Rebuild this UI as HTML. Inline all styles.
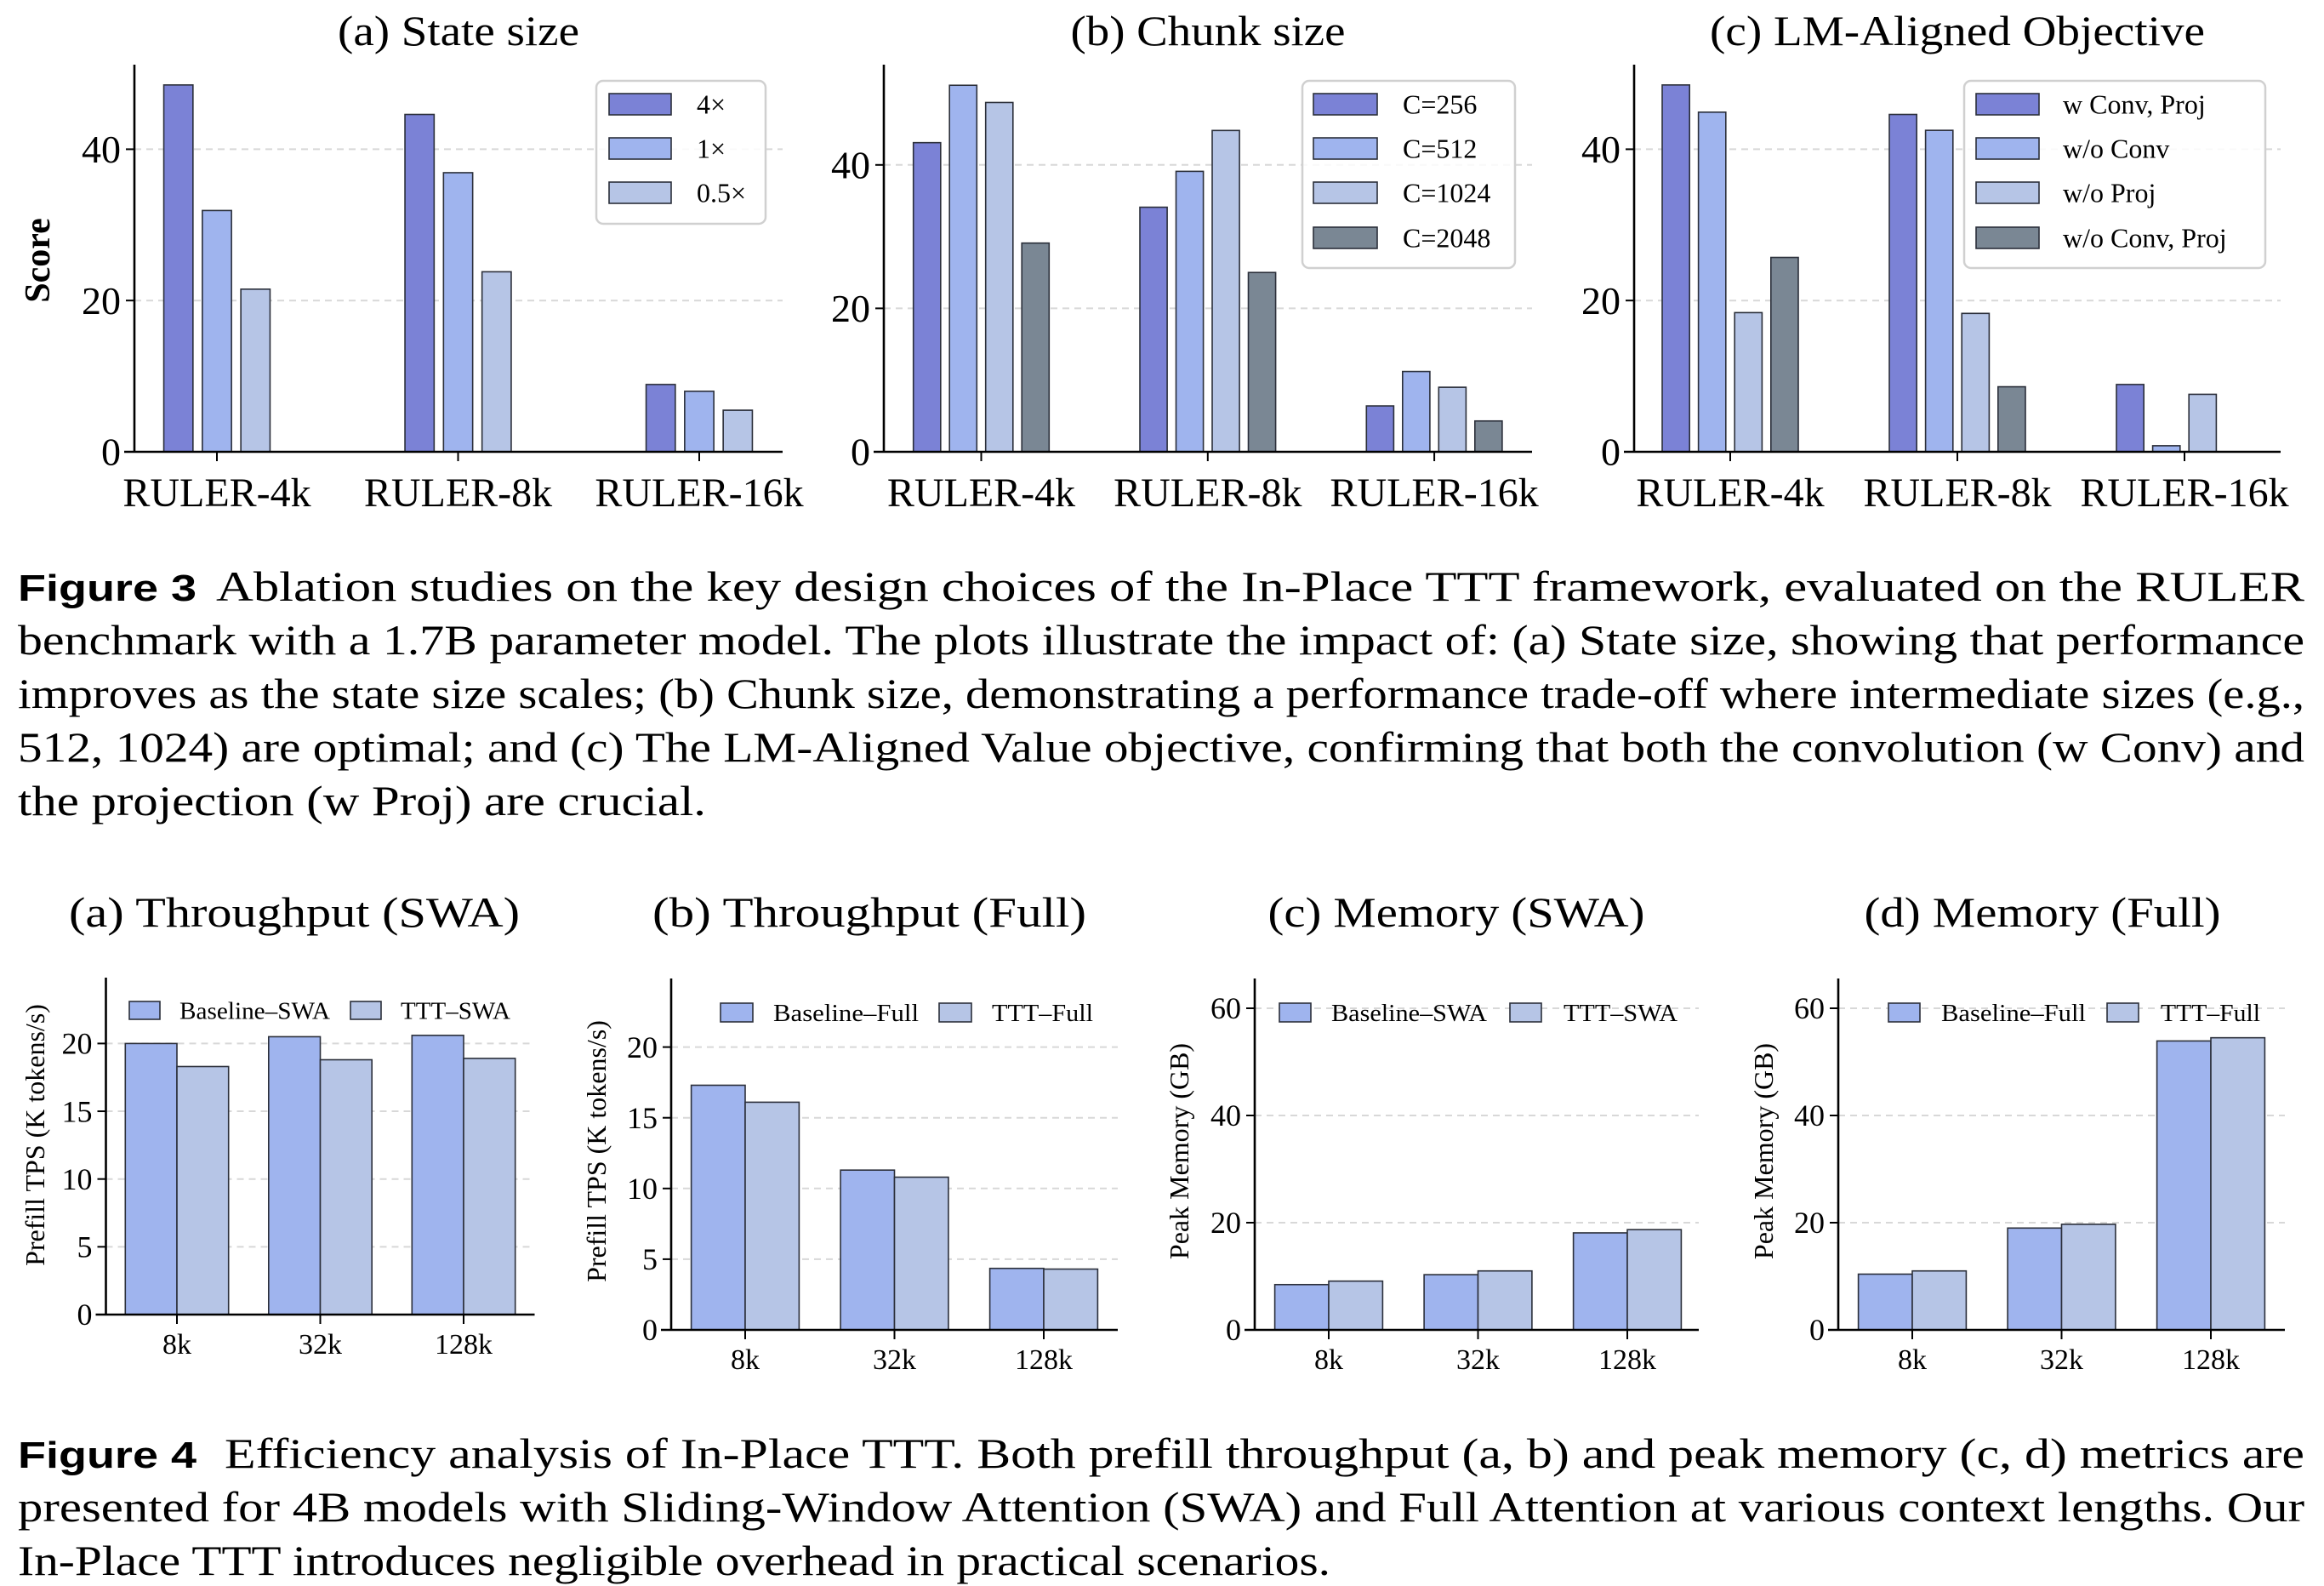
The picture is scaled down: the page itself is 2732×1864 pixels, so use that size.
<!DOCTYPE html>
<html><head><meta charset="utf-8"><style>
html,body{margin:0;padding:0;background:#fff;}
svg{display:block;}
.serif{font-family:"Liberation Serif",serif;fill:#000;}
.sans{font-family:"Liberation Sans",sans-serif;fill:#000;}
</style></head><body>
<svg id="root" xmlns="http://www.w3.org/2000/svg" width="2732" height="1864" viewBox="0 0 2732 1864">
<rect x="0" y="0" width="2732" height="1864" fill="#fff"/>
<text class="serif" x="539" y="53" font-size="50" text-anchor="middle" textLength="284" lengthAdjust="spacingAndGlyphs">(a) State size</text>
<text class="serif" x="1420" y="53" font-size="50" text-anchor="middle" textLength="323" lengthAdjust="spacingAndGlyphs">(b) Chunk size</text>
<text class="serif" x="2301" y="53" font-size="50" text-anchor="middle" textLength="582" lengthAdjust="spacingAndGlyphs">(c) LM-Aligned Objective</text>
<g>
<text class="sans" x="21" y="706" font-size="44" font-weight="bold" textLength="210" lengthAdjust="spacingAndGlyphs">Figure 3</text>
<text class="serif" x="254" y="706" font-size="50" textLength="2455" lengthAdjust="spacingAndGlyphs">Ablation studies on the key design choices of the In-Place TTT framework, evaluated on the RULER</text>
<text class="serif" x="21" y="769" font-size="50" textLength="2688" lengthAdjust="spacingAndGlyphs">benchmark with a 1.7B parameter model. The plots illustrate the impact of: (a) State size, showing that performance</text>
<text class="serif" x="21" y="832" font-size="50" textLength="2688" lengthAdjust="spacingAndGlyphs">improves as the state size scales; (b) Chunk size, demonstrating a performance trade-off where intermediate sizes (e.g.,</text>
<text class="serif" x="21" y="895" font-size="50" textLength="2688" lengthAdjust="spacingAndGlyphs">512, 1024) are optimal; and (c) The LM-Aligned Value objective, confirming that both the convolution (w Conv) and</text>
<text class="serif" x="21" y="958" font-size="50" textLength="809" lengthAdjust="spacingAndGlyphs">the projection (w Proj) are crucial.</text>
</g>
<text class="serif" x="346" y="1089" font-size="50" text-anchor="middle" textLength="530" lengthAdjust="spacingAndGlyphs">(a) Throughput (SWA)</text>
<text class="serif" x="1022" y="1089" font-size="50" text-anchor="middle" textLength="510" lengthAdjust="spacingAndGlyphs">(b) Throughput (Full)</text>
<text class="serif" x="1712" y="1089" font-size="50" text-anchor="middle" textLength="443" lengthAdjust="spacingAndGlyphs">(c) Memory (SWA)</text>
<text class="serif" x="2401" y="1089" font-size="50" text-anchor="middle" textLength="419" lengthAdjust="spacingAndGlyphs">(d) Memory (Full)</text>
<g>
<text class="sans" x="21" y="1725" font-size="44" font-weight="bold" textLength="210" lengthAdjust="spacingAndGlyphs">Figure 4</text>
<text class="serif" x="264" y="1725" font-size="50" textLength="2445" lengthAdjust="spacingAndGlyphs">Efficiency analysis of In-Place TTT. Both prefill throughput (a, b) and peak memory (c, d) metrics are</text>
<text class="serif" x="21" y="1788" font-size="50" textLength="2688" lengthAdjust="spacingAndGlyphs">presented for 4B models with Sliding-Window Attention (SWA) and Full Attention at various context lengths. Our</text>
<text class="serif" x="21" y="1851" font-size="50" textLength="1543" lengthAdjust="spacingAndGlyphs">In-Place TTT introduces negligible overhead in practical scenarios.</text>
</g>
</svg>
<script>
const rulerCats = ["RULER-4k", "RULER-8k", "RULER-16k"];
const stateSeries = ["4×", "1×", "0.5×"];
const state4x = [48.5, 44.6, 8.9];
const state1x = [31.9, 36.9, 8.0];
const state05x = [21.5, 23.8, 5.5];
const chunkSeries = ["C=256", "C=512", "C=1024", "C=2048"];
const chunk256 = [43.1, 34.1, 6.4];
const chunk512 = [51.1, 39.1, 11.2];
const chunk1024 = [48.7, 44.8, 9.0];
const chunk2048 = [29.1, 25.0, 4.3];
const lmSeries = ["w Conv, Proj", "w/o Conv", "w/o Proj", "w/o Conv, Proj"];
const lmConvProj = [48.5, 44.6, 8.9];
const lmNoConv = [44.9, 42.5, 0.8];
const lmNoProj = [18.4, 18.3, 7.6];
const lmNoBoth = [25.7, 8.6, 0];
const topTicks = [0, 20, 40];

const ctxCats = ["8k", "32k", "128k"];
const tpsSwaBase = [20.0, 20.5, 20.6];
const tpsSwaTTT = [18.3, 18.8, 18.9];
const tpsFullBase = [17.3, 11.3, 4.35];
const tpsFullTTT = [16.1, 10.8, 4.3];
const memSwaBase = [8.45, 10.3, 18.1];
const memSwaTTT = [9.1, 11.0, 18.7];
const memFullBase = [10.4, 19.0, 53.9];
const memFullTTT = [11.0, 19.7, 54.5];
const tpsTicks = [0, 5, 10, 15, 20];
const memTicks = [0, 20, 40, 60];
const swaLegend = ["Baseline–SWA", "TTT–SWA"];
const fullLegend = ["Baseline–Full", "TTT–Full"];

const NS = "http://www.w3.org/2000/svg";
const root = document.getElementById("root");
const C4 = "#7b82d6", C1 = "#9fb4ee", C05 = "#b6c5e6", CD = "#7a8794";

function mk(tag, parent, attrs) {
  const e = document.createElementNS(NS, tag);
  for (const k in attrs) e.setAttribute(k, attrs[k]);
  parent.appendChild(e);
  return e;
}

function drawChart(cfg) {
  const g = mk("g", root, {});
  
  
  const y = v => cfg.y0 - v * cfg.ppu;
  const xc = i => cfg.tick0 + i * cfg.step;
  cfg.ticks.forEach(t => {
    if (t === 0) return;
    const gl = mk("line", g, {x1: cfg.ax, x2: cfg.axR, y1: y(t), y2: y(t), stroke: "#d8d8d8", "stroke-width": 2, "stroke-dasharray": "8,6"});
    
    
  });
  const n = cfg.series.length;
  cfg.series.forEach((vals, j) => {
    vals.forEach((v, i) => {
      if (v <= 0) return;
      const cx = xc(i) + (j - (n - 1) / 2) * cfg.pitch;
      const b = mk("rect", g, {x: cx - cfg.bw / 2, y: y(v), width: cfg.bw, height: v * cfg.ppu, fill: cfg.colors[j], stroke: "#2b2f3a", "stroke-width": 1.6});
      
      
    });
  });
  const ls = mk("line", g, {x1: cfg.ax, x2: cfg.ax, y1: cfg.top, y2: cfg.y0, stroke: "#000", "stroke-width": 2.6});
  
  
  const bs = mk("line", g, {x1: cfg.ax - 12, x2: cfg.axR, y1: cfg.y0, y2: cfg.y0, stroke: "#000", "stroke-width": 2.6});
  
  
  cfg.ticks.forEach(t => {
    mk("line", g, {x1: cfg.ax - 10, x2: cfg.ax, y1: y(t), y2: y(t), stroke: "#000", "stroke-width": 2});
    const tl = mk("text", g, {x: cfg.ax - 16, y: y(t) + cfg.tf * 0.34, "font-size": cfg.tf, "text-anchor": "end", class: "serif"});
    tl.textContent = String(t);
    
    
  });
  cfg.cats.forEach((c, i) => {
    mk("line", g, {x1: xc(i), x2: xc(i), y1: cfg.y0, y2: cfg.y0 + 11, stroke: "#000", "stroke-width": 2});
    const xl = mk("text", g, {x: xc(i), y: cfg.y0 + cfg.xlOff, "font-size": cfg.xf, "text-anchor": "middle", class: "serif"});
    xl.textContent = c;
    
    
  });
  if (cfg.ylabel) {
    const yl = mk("text", g, {x: 0, y: 0, "font-size": cfg.ylf, "text-anchor": "middle", class: "serif", "font-weight": cfg.ylBold ? "bold" : "normal", transform: "translate(" + cfg.ylx + "," + cfg.yly + ") rotate(-90)"});
    yl.textContent = cfg.ylabel;
    
    
  }
  const L = cfg.legend;
  const lg = mk("g", g, {});
  
  
  if (L.box) mk("rect", lg, {x: L.box[0], y: L.box[1], width: L.box[2], height: L.box[3], rx: 8, fill: "#fff", "fill-opacity": 0.85, stroke: "#d0d0d0", "stroke-width": 2.5});
  cfg.labels.forEach((lab, j) => {
    const sx = L.sx[j], sy = L.sy[j];
    const sw = mk("rect", lg, {x: sx, y: sy, width: L.sw, height: L.sh, fill: cfg.colors[j], stroke: "#2b2f3a", "stroke-width": 1.6});
    
    
    const attrs = {x: L.tx[j], y: sy + L.sh / 2 + L.fs * 0.34, "font-size": L.fs, class: "serif"};
    if (L.tw) { attrs.textLength = L.tw[j]; attrs.lengthAdjust = "spacingAndGlyphs"; }
    const lt = mk("text", lg, attrs);
    lt.textContent = lab;
    
    
  });
}

drawChart({name: "state-size-chart", cats: rulerCats, series: [state4x, state1x, state05x], labels: stateSeries, colors: [C4, C1, C05],
  ax: 158, axR: 920, top: 76, y0: 531, ppu: 8.89, tick0: 255, step: 283.5, bw: 34.3, pitch: 45.3, ticks: topTicks, tf: 46, xf: 48, xlOff: 64,
  ylabel: "Score", ylf: 42, ylBold: true, ylx: 58, yly: 306,
  legend: {box: [701, 95, 199, 168], sx: [716, 716, 716], sy: [110, 162, 214], sw: 73, sh: 25, tx: [819, 819, 819], fs: 32}});
drawChart({name: "chunk-size-chart", cats: rulerCats, series: [chunk256, chunk512, chunk1024, chunk2048], labels: chunkSeries, colors: [C4, C1, C05, CD],
  ax: 1039, axR: 1801, top: 76, y0: 531, ppu: 8.43, tick0: 1153.5, step: 266.3, bw: 32.1, pitch: 42.5, ticks: topTicks, tf: 46, xf: 48, xlOff: 64,
  legend: {box: [1531, 95, 250, 220], sx: [1544, 1544, 1544, 1544], sy: [110, 162, 214, 267], sw: 75, sh: 25, tx: [1649, 1649, 1649, 1649], fs: 32}});
drawChart({name: "lm-aligned-chart", cats: rulerCats, series: [lmConvProj, lmNoConv, lmNoProj, lmNoBoth], labels: lmSeries, colors: [C4, C1, C05, CD],
  ax: 1921, axR: 2681, top: 76, y0: 531, ppu: 8.89, tick0: 2034, step: 267, bw: 32.2, pitch: 42.6, ticks: topTicks, tf: 46, xf: 48, xlOff: 64,
  legend: {box: [2309, 95, 354, 220], sx: [2323, 2323, 2323, 2323], sy: [110, 162, 214, 267], sw: 74, sh: 25, tx: [2425, 2425, 2425, 2425], fs: 32}});

const BC = [C1, C05];
drawChart({name: "throughput-swa-chart", cats: ctxCats, series: [tpsSwaBase, tpsSwaTTT], labels: swaLegend, colors: BC,
  ax: 124.5, axR: 628.5, top: 1149, y0: 1545, ppu: 15.93, tick0: 208, step: 168.5, bw: 60.7, pitch: 60.7, ticks: tpsTicks, tf: 36, xf: 34, xlOff: 46,
  ylabel: "Prefill TPS (K tokens/s)", ylf: 32, ylx: 52, yly: 1334,
  legend: {sx: [152, 412], sy: [1177, 1177], sw: 36, sh: 21, tx: [211, 471], fs: 29, tw: [177, 129]}});
drawChart({name: "throughput-full-chart", cats: ctxCats, series: [tpsFullBase, tpsFullTTT], labels: fullLegend, colors: BC,
  ax: 789, axR: 1314, top: 1150, y0: 1563, ppu: 16.62, tick0: 876, step: 175.5, bw: 63.4, pitch: 63.4, ticks: tpsTicks, tf: 36, xf: 34, xlOff: 46,
  ylabel: "Prefill TPS (K tokens/s)", ylf: 32, ylx: 712, yly: 1353,
  legend: {sx: [847, 1104], sy: [1179, 1179], sw: 38, sh: 22, tx: [909, 1166], fs: 29, tw: [171, 119]}});
drawChart({name: "memory-swa-chart", cats: ctxCats, series: [memSwaBase, memSwaTTT], labels: swaLegend, colors: BC,
  ax: 1475, axR: 1997, top: 1150, y0: 1563, ppu: 6.30, tick0: 1562, step: 175.5, bw: 63.4, pitch: 63.4, ticks: memTicks, tf: 36, xf: 34, xlOff: 46,
  ylabel: "Peak Memory (GB)", ylf: 32, ylx: 1397, yly: 1353,
  legend: {sx: [1504, 1775], sy: [1179, 1179], sw: 37, sh: 22, tx: [1565, 1838], fs: 29, tw: [183, 134]}});
drawChart({name: "memory-full-chart", cats: ctxCats, series: [memFullBase, memFullTTT], labels: fullLegend, colors: BC,
  ax: 2161, axR: 2686, top: 1150, y0: 1563, ppu: 6.30, tick0: 2248, step: 175.5, bw: 63.4, pitch: 63.4, ticks: memTicks, tf: 36, xf: 34, xlOff: 46,
  ylabel: "Peak Memory (GB)", ylf: 32, ylx: 2084, yly: 1353,
  legend: {sx: [2220, 2477], sy: [1179, 1179], sw: 37, sh: 22, tx: [2282, 2540], fs: 29, tw: [170, 117]}});
</script>
</body></html>
